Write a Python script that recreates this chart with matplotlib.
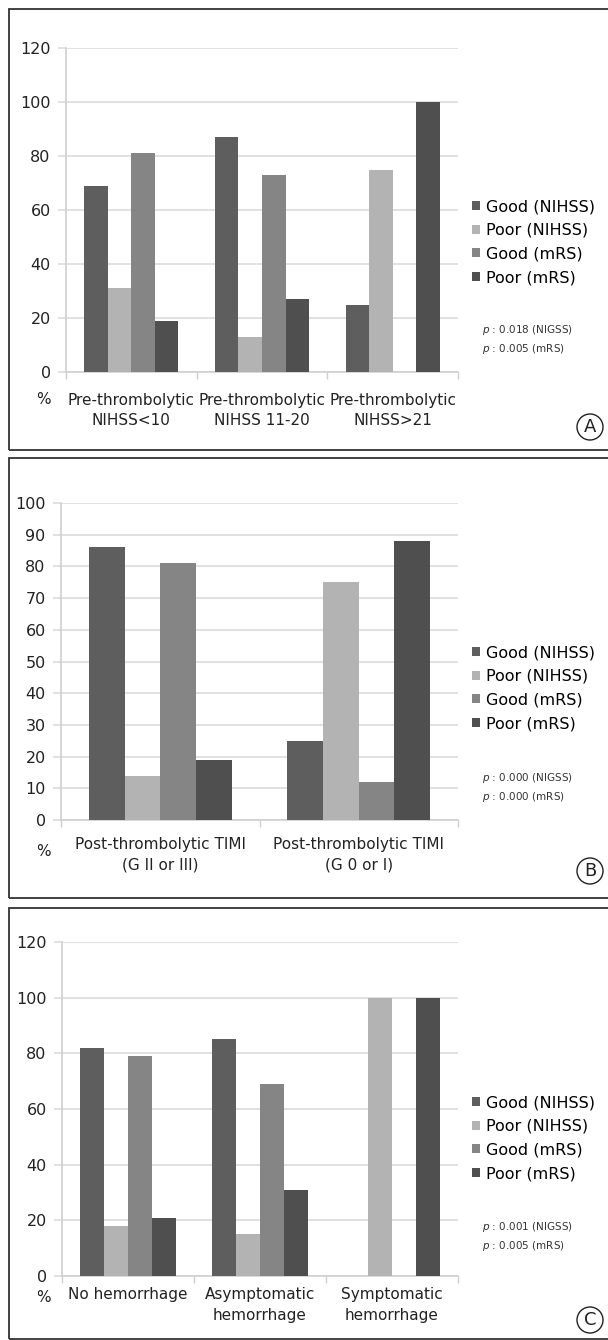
import matplotlib.pyplot as plt
import numpy as np
import matplotlib.patches as mpatches

series = ['Good (NIHSS)', 'Poor (NIHSS)', 'Good (mRS)', 'Poor (mRS)']
colors = ['#5e5e5e', '#b3b3b3', '#858585', '#4f4f4f']

# panel A
cats_a = ['Pre-thrombolytic\nNIHSS<10', 'Pre-thrombolytic\nNIHSS 11-20', 'Pre-thrombolytic\nNIHSS>21']
good_nihss_a = [69, 87, 25]
poor_nihss_a = [31, 13, 75]
good_mrs_a = [81, 73, 0]
poor_mrs_a = [19, 27, 100]
pvals_a = ['0.018 (NIGSS)', '0.005 (mRS)']

# panel B
cats_b = ['Post-thrombolytic TIMI\n(G II or III)', 'Post-thrombolytic TIMI\n(G 0 or I)']
good_nihss_b = [86, 25]
poor_nihss_b = [14, 75]
good_mrs_b = [81, 12]
poor_mrs_b = [19, 88]
pvals_b = ['0.000 (NIGSS)', '0.000 (mRS)']

# panel C
cats_c = ['No hemorrhage', 'Asymptomatic\nhemorrhage', 'Symptomatic\nhemorrhage']
good_nihss_c = [82, 85, 0]
poor_nihss_c = [18, 15, 100]
good_mrs_c = [79, 69, 0]
poor_mrs_c = [21, 31, 100]
pvals_c = ['0.001 (NIGSS)', '0.005 (mRS)']

W, H = 608, 1340
fig = plt.figure(figsize=(W / 100, H / 100), dpi=100)


def fx(x):
    return x / W


def fy(y):
    return 1 - y / H


panels = [
    dict(cats=cats_a, data=[good_nihss_a, poor_nihss_a, good_mrs_a, poor_mrs_a], pv=pvals_a,
         letter='A', frame=(9.5, 450), ax=(66, 48, 372), ymax=120, step=20, pad=15,
         pct=400, leg=199, py=330, cy=427),
    dict(cats=cats_b, data=[good_nihss_b, poor_nihss_b, good_mrs_b, poor_mrs_b], pv=pvals_b,
         letter='B', frame=(458, 898), ax=(61, 503, 820), ymax=100, step=10, pad=12,
         pct=852, leg=645, py=778, cy=871),
    dict(cats=cats_c, data=[good_nihss_c, poor_nihss_c, good_mrs_c, poor_mrs_c], pv=pvals_c,
         letter='C', frame=(908, 1339), ax=(62, 942, 1276), ymax=120, step=20, pad=8,
         pct=1298, leg=1095, py=1227, cy=1320),
]

for p in panels:
    top, bottom = p['frame']
    fig.add_artist(mpatches.Rectangle((fx(9), fy(bottom)), fx(620 - 9), (bottom - top) / H,
                                      transform=fig.transFigure, fill=False, ec='#333333', lw=1.3))

    left, atop, abot = p['ax']
    ax = fig.add_axes([fx(left), fy(abot), fx(458 - left), (abot - atop) / H])
    n = len(p['cats'])
    x = np.arange(n)
    w = 0.18
    for i, vals in enumerate(p['data']):
        ax.bar(x + (i - 1.5) * w, vals, w, color=colors[i], label=series[i], zorder=3)
    ax.set_xlim(-0.5, n - 0.5)
    ax.set_ylim(0, p['ymax'])
    ax.set_yticks(np.arange(0, p['ymax'] + 1, p['step']))
    ax.grid(axis='y', color='#dcdcdc', lw=1.2)
    ax.set_axisbelow(True)
    ax.set_xticks(x)
    ax.set_xticklabels(p['cats'], fontsize=11, linespacing=1.45, color='#222222')
    ax.set_xticks(np.arange(n + 1) - 0.5, minor=True)
    ax.tick_params(axis='x', which='major', length=0, pad=p['pad'])
    ax.tick_params(axis='x', which='minor', length=5, color='#cfcfcf', width=1)
    ax.tick_params(axis='y', length=6, color='#dcdcdc', width=1.2, labelsize=11.5, pad=5,
                   labelcolor='#222222')
    for s in ['top', 'right']:
        ax.spines[s].set_visible(False)
    for s in ['left', 'bottom']:
        ax.spines[s].set_color('#d0d0d0')
        ax.spines[s].set_linewidth(1.2)

    ax.legend(loc='upper left', bbox_to_anchor=(fx(472), fy(p['leg'])), bbox_transform=fig.transFigure,
              frameon=False, fontsize=11.5, handlelength=0.5, handleheight=0.5, handletextpad=0.35,
              labelspacing=0.55, borderpad=0, borderaxespad=0)

    fig.text(fx(482), fy(p['py']), r'$p$ : ' + p['pv'][0], fontsize=7.5, va='center', color='#333333')
    fig.text(fx(482), fy(p['py'] + 19), r'$p$ : ' + p['pv'][1], fontsize=7.5, va='center', color='#333333')

    fig.text(fx(43), fy(p['pct']), '%', fontsize=11, ha='center', va='center', color='#222222')

    fig.add_artist(mpatches.Ellipse((fx(590), fy(p['cy'])), fx(26), 26 / H, transform=fig.transFigure,
                                    fill=False, ec='#222222', lw=1))
    fig.text(fx(590), fy(p['cy']), p['letter'], fontsize=13, ha='center', va='center', color='#222222')

plt.savefig('out.png', dpi=100)
plt.close()
